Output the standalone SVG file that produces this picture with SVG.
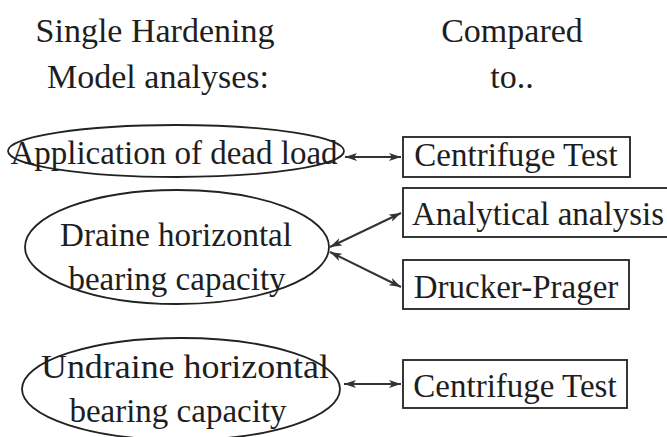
<svg xmlns="http://www.w3.org/2000/svg" width="667" height="437" viewBox="0 0 667 437">
<style>
text{font-family:"Liberation Serif","Times New Roman",serif;font-size:33px;fill:#1e1e1e;text-anchor:middle}
.title{font-size:34px}
.node ellipse,.node rect{fill:none;stroke:#222;stroke-width:1.8}
.conn line{stroke:#333;stroke-width:2}
</style>
<defs>
<marker id="ah" viewBox="0 0 12 8" refX="12" refY="4" markerWidth="12" markerHeight="8" markerUnits="userSpaceOnUse" orient="auto-start-reverse">
<path d="M0,0 L12,4 L0,8 L3,4 Z" fill="#333"/>
</marker>
</defs>
<rect width="667" height="437" fill="#fff"/>
<g id="title-left">
<text class="title" x="155" y="42">Single Hardening</text>
<text class="title" x="158" y="88">Model analyses:</text>
</g>
<g id="title-right">
<text class="title" x="512" y="42">Compared</text>
<text class="title" x="512" y="88">to..</text>
</g>
<g id="n1" class="node">
<ellipse cx="176" cy="151" rx="168" ry="26"/>
<text x="174" y="164">Application of dead load</text>
</g>
<g id="n2" class="node">
<ellipse cx="177" cy="247" rx="152" ry="57"/>
<text x="176" y="246">Draine horizontal</text>
<text x="177" y="290">bearing capacity</text>
</g>
<g id="n3" class="node">
<ellipse cx="181" cy="389" rx="159" ry="51"/>
<text x="185" y="378" textLength="288" lengthAdjust="spacingAndGlyphs" style="font-size:34px">Undraine horizontal</text>
<text x="178" y="422">bearing capacity</text>
</g>
<g id="b1" class="node">
<rect x="403" y="137" width="227" height="40"/>
<text x="516" y="166">Centrifuge Test</text>
</g>
<g id="b2" class="node">
<rect x="403" y="188" width="270" height="49"/>
<text x="538" y="225">Analytical analysis</text>
</g>
<g id="b3" class="node">
<rect x="403" y="260" width="226" height="49"/>
<text x="516" y="298">Drucker-Prager</text>
</g>
<g id="b4" class="node">
<rect x="403" y="360" width="224" height="48"/>
<text x="515" y="397">Centrifuge Test</text>
</g>
<g id="connectors" class="conn">
<line x1="345" y1="157" x2="401" y2="157" marker-start="url(#ah)" marker-end="url(#ah)"/>
<line x1="330" y1="247" x2="401" y2="213" marker-start="url(#ah)" marker-end="url(#ah)"/>
<line x1="330" y1="252" x2="401" y2="287" marker-start="url(#ah)" marker-end="url(#ah)"/>
<line x1="344" y1="384" x2="401" y2="384" marker-start="url(#ah)" marker-end="url(#ah)"/>
</g>
</svg>
